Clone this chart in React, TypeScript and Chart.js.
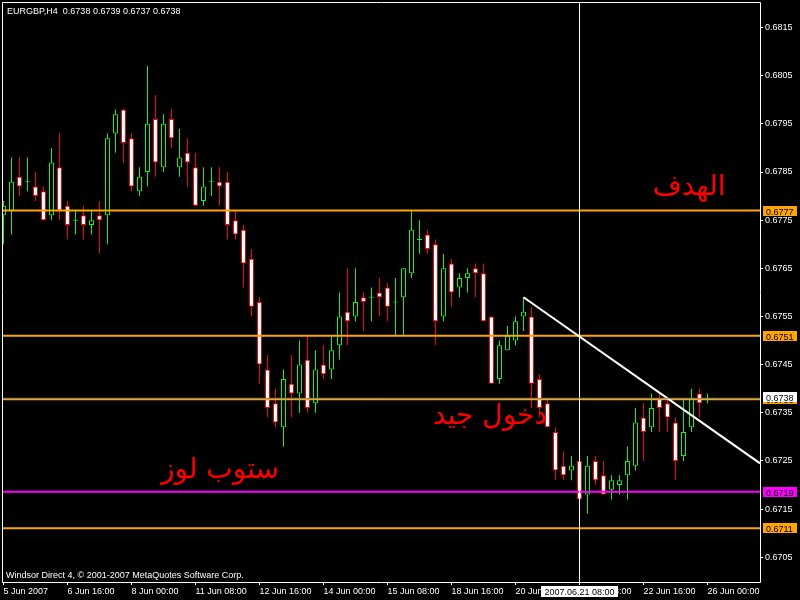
import React, { useEffect, useRef } from "react";
import { Chart, registerables } from "chart.js";

Chart.register(...registerables);

const symbolLabel = "EURGBP,H4";
const footerText = "Windsor Direct 4, © 2001-2007 MetaQuotes Software Corp.";

// H4 candles, 5 Jun 2007 08:00 .. 26 Jun 2007 00:00
const opens = [
  0.6776, 0.6777, 0.6784, 0.6783, 0.6782, 0.6781, 0.6776, 0.6786, 0.6778, 0.6775,
  0.6776, 0.6774, 0.6776, 0.6776, 0.6793, 0.6798, 0.6792, 0.6781, 0.6785, 0.6796,
  0.6786, 0.6796, 0.6786, 0.6789, 0.6786, 0.6779, 0.6783, 0.6783, 0.6783, 0.6775,
  0.6773, 0.6767, 0.6758, 0.6744, 0.6737, 0.6732, 0.6741, 0.6739, 0.6746, 0.6737,
  0.6745, 0.6744, 0.6749, 0.6756, 0.6755, 0.6759, 0.6759, 0.6760, 0.6761, 0.6758,
  0.6759, 0.6764, 0.6771, 0.6772, 0.6770, 0.6755, 0.6766, 0.6761, 0.6763, 0.6765,
  0.6764, 0.6755, 0.6742, 0.6748, 0.6750, 0.6755, 0.6755, 0.6742, 0.6737, 0.6731,
  0.6724, 0.6723, 0.6725, 0.6718, 0.6725, 0.6722, 0.6719, 0.6720, 0.6722, 0.6724,
  0.6734, 0.6732, 0.6738, 0.6737, 0.6733, 0.6726, 0.6732, 0.6739, 0.6738,
];
const highs = [
  0.6779, 0.6788, 0.6788, 0.6788, 0.6785, 0.6782, 0.6790, 0.6793, 0.6779, 0.6777,
  0.6778, 0.6777, 0.6779, 0.6793, 0.6798, 0.6798, 0.6793, 0.6786, 0.6807, 0.6801,
  0.6797, 0.6798, 0.6794, 0.6792, 0.6789, 0.6786, 0.6786, 0.6786, 0.6785, 0.6777,
  0.6774, 0.6769, 0.6759, 0.6747, 0.6740, 0.6744, 0.6747, 0.6750, 0.6751, 0.6748,
  0.6749, 0.6751, 0.6760, 0.6765, 0.6765, 0.6760, 0.6761, 0.6763, 0.6762, 0.6763,
  0.6765, 0.6777, 0.6775, 0.6773, 0.6771, 0.6768, 0.6767, 0.6764, 0.6765, 0.6766,
  0.6766, 0.6755, 0.6750, 0.6753, 0.6755, 0.6759, 0.6757, 0.6743, 0.6738, 0.6732,
  0.6727, 0.6726, 0.6725, 0.6726, 0.6726, 0.6725, 0.6722, 0.6722, 0.6728, 0.6736,
  0.6737, 0.6739, 0.6739, 0.6738, 0.6734, 0.6738, 0.6740, 0.6740, 0.6739,
];
const lows = [
  0.6770, 0.6772, 0.6780, 0.6781, 0.6779, 0.6775, 0.6775, 0.6775, 0.6771, 0.6772,
  0.6771, 0.6772, 0.6768, 0.6770, 0.6789, 0.6787, 0.6781, 0.6780, 0.6782, 0.6784,
  0.6785, 0.6790, 0.6784, 0.6782, 0.6778, 0.6778, 0.6780, 0.6778, 0.6771, 0.6771,
  0.6761, 0.6755, 0.6741, 0.6734, 0.6732, 0.6728, 0.6734, 0.6735, 0.6735, 0.6735,
  0.6742, 0.6742, 0.6746, 0.6749, 0.6754, 0.6752, 0.6754, 0.6755, 0.6754, 0.6751,
  0.6751, 0.6763, 0.6768, 0.6768, 0.6749, 0.6754, 0.6757, 0.6759, 0.6760, 0.6759,
  0.6754, 0.6741, 0.6741, 0.6748, 0.6749, 0.6752, 0.6736, 0.6734, 0.6732, 0.6721,
  0.6721, 0.6721, 0.6717, 0.6714, 0.6720, 0.6718, 0.6717, 0.6718, 0.6717, 0.6723,
  0.6725, 0.6731, 0.6731, 0.6731, 0.6721, 0.6725, 0.6731, 0.6734, 0.6737,
];
const closes = [
  0.6778, 0.6783, 0.6782, 0.6783, 0.6780, 0.6775, 0.6787, 0.6777, 0.6774, 0.6775,
  0.6774, 0.6775, 0.6775, 0.6792, 0.6797, 0.6791, 0.6782, 0.6784, 0.6795, 0.6787,
  0.6795, 0.6792, 0.6788, 0.6787, 0.6778, 0.6782, 0.6783, 0.6782, 0.6774, 0.6772,
  0.6766, 0.6757, 0.6745, 0.6736, 0.6733, 0.6742, 0.6739, 0.6745, 0.6736, 0.6744,
  0.6743, 0.6748, 0.6755, 0.6754, 0.6758, 0.6758, 0.6759, 0.6759, 0.6757, 0.6758,
  0.6765, 0.6773, 0.6771, 0.6769, 0.6754, 0.6765, 0.6760, 0.6763, 0.6764, 0.6764,
  0.6754, 0.6741, 0.6749, 0.6751, 0.6754, 0.6756, 0.6741, 0.6736, 0.6732, 0.6723,
  0.6722, 0.6724, 0.6717, 0.6724, 0.6721, 0.6718, 0.6721, 0.6721, 0.6725, 0.6733,
  0.6731, 0.6736, 0.6736, 0.6734, 0.6725, 0.6731, 0.6738, 0.6737, 0.6738,
];

const xTickIndex = [0, 8, 16, 24, 32, 40, 48, 56, 64, 72, 80, 88];
const xTickLabels = [
  "5 Jun 2007", "6 Jun 16:00", "8 Jun 00:00", "11 Jun 08:00", "12 Jun 16:00", "14 Jun 00:00",
  "15 Jun 08:00", "18 Jun 16:00", "20 Jun 00:00", "21 Jun 08:00", "22 Jun 16:00", "26 Jun 00:00",
];
const yTicks = [0.6705, 0.6715, 0.6725, 0.6735, 0.6745, 0.6755, 0.6765, 0.6775, 0.6785, 0.6795, 0.6805, 0.6815];

const levelPrices = [0.6777, 0.6751, 0.67378, 0.67186, 0.6711];
const levelColors = ["#FFA500", "#FFA500", "#FFA500", "#FF00FF", "#FFA500"];
const bidPrice = 0.6738;

const trendIndex = [65, 94.5625];
const trendPrice = [0.6759, 0.67245];

const vlineIndex = 72;
const vlineLabel = "2007.06.21 08:00";

const noteTexts = ["الهدف", "دخول جيد", "ستوب لوز"];
const noteIndex = [85.7, 60.8, 27.06];
const notePrice = [0.67803, 0.67327, 0.67215];

const X_MIN = -0.1875;
const X_MAX = 94.5625;
const Y_MIN = 0.669985;
const Y_MAX = 0.682031;
const DOJI = 0.00001;
const FONT = '"Liberation Sans", Arial, sans-serif';

export default function App() {
  const ref = useRef<HTMLCanvasElement>(null);

  useEffect(() => {
    document.body.style.margin = "0";
    document.body.style.background = "#000";
    const canvas = ref.current;
    if (!canvas) return;

    const idx = opens.map((_, i) => i);
    const bull = idx.map((i) => closes[i] >= opens[i]);
    const bodyData = idx.map((i) => {
      const o = opens[i];
      const c = closes[i];
      const lo = Math.min(o, c);
      const hi = Math.max(o, c);
      return { x: i, y: hi - lo < 1e-9 ? [o - DOJI, o + DOJI] : [lo, hi] };
    });
    const wickData = idx.map((i) => ({ x: i, y: [lows[i], highs[i]] }));

    const lineDs = (data: any[], color: string, width: number) => ({
      type: "line" as const,
      data,
      borderColor: color,
      borderWidth: width,
      pointRadius: 0,
      fill: false,
      tension: 0,
      order: 0,
    });

    const datasets: any[] = [
      lineDs([{ x: X_MIN, y: bidPrice }, { x: X_MAX, y: bidPrice }], "#778899", 1),
      lineDs([{ x: vlineIndex, y: Y_MIN }, { x: vlineIndex, y: Y_MAX }], "#FFFFFF", 1),
      lineDs(
        [
          { x: trendIndex[0], y: trendPrice[0] },
          { x: trendIndex[1], y: trendPrice[1] },
        ],
        "#FFFFFF",
        2
      ),
      ...levelPrices.map((p, k) =>
        lineDs([{ x: X_MIN, y: p }, { x: X_MAX, y: p }], levelColors[k], 2)
      ),
      {
        type: "bar",
        data: bodyData,
        backgroundColor: bull.map((b) => (b ? "#000000" : "#FFFFFF")),
        borderColor: bull.map((b) => (b ? "#00FF00" : "#FF0000")),
        borderWidth: 1,
        borderSkipped: false,
        grouped: false,
        maxBarThickness: 5,
        inflateAmount: 0,
        order: 1,
      },
      {
        type: "bar",
        data: wickData,
        backgroundColor: bull.map((b) => (b ? "#00FF00" : "#FF0000")),
        borderWidth: 0,
        grouped: false,
        maxBarThickness: 1,
        inflateAmount: 0,
        order: 2,
      },
    ];

    const background = {
      id: "mtBackground",
      beforeDraw(chart: any) {
        const ctx = chart.ctx;
        ctx.save();
        ctx.fillStyle = "#000000";
        ctx.fillRect(0, 0, chart.width, chart.height);
        ctx.restore();
      },
    };

    const overlay = {
      id: "mtOverlay",
      afterDraw(chart: any) {
        const { ctx, chartArea: a } = chart;
        const xs = chart.scales.x;
        const ys = chart.scales.y;
        ctx.save();
        // frame
        ctx.strokeStyle = "#FFFFFF";
        ctx.lineWidth = 1;
        ctx.beginPath();
        ctx.moveTo(a.left + 0.5, a.top + 0.5);
        ctx.lineTo(a.right + 0.5, a.top + 0.5);
        ctx.lineTo(a.right + 0.5, a.bottom + 0.5);
        ctx.lineTo(a.left + 0.5, a.bottom + 0.5);
        ctx.closePath();
        ctx.stroke();

        ctx.font = `9px ${FONT}`;
        ctx.textBaseline = "alphabetic";
        const tag = (text: string, py: number, bg: string, fg: string) => {
          const top = Math.round(py) - 5;
          ctx.fillStyle = bg;
          ctx.fillRect(a.right + 3, top, 34, 10);
          ctx.fillStyle = fg;
          ctx.textAlign = "left";
          ctx.fillText(text, a.right + 6, top + 8.5);
        };
        levelPrices.forEach((p, k) => tag(p.toFixed(4), ys.getPixelForValue(p), levelColors[k], "#000000"));
        tag(bidPrice.toFixed(4), ys.getPixelForValue(bidPrice) - 1, "#FFFFFF", "#000000");

        // vertical line date tag
        const vx = xs.getPixelForValue(vlineIndex);
        const w = Math.round(ctx.measureText(vlineLabel).width + 7);
        ctx.fillStyle = "#FFFFFF";
        ctx.fillRect(Math.round(vx - w / 2), a.bottom + 4, w, 11);
        ctx.fillStyle = "#000000";
        ctx.textAlign = "center";
        ctx.fillText(vlineLabel, vx, a.bottom + 12.5);

        // header and footer
        const last = opens.length - 1;
        const header = `${symbolLabel}  ${opens[last].toFixed(4)} ${highs[last].toFixed(4)} ${lows[last].toFixed(4)} ${closes[last].toFixed(4)}`;
        ctx.fillStyle = "#FFFFFF";
        ctx.textAlign = "left";
        ctx.fillText(header, 7, 14);
        ctx.fillText(footerText, 6, 578);

        // text notes
        ctx.font = `28px "DejaVu Sans", sans-serif`;
        ctx.fillStyle = "#FF0000";
        ctx.textAlign = "center";
        noteTexts.forEach((t, k) => {
          ctx.fillText(t, xs.getPixelForValue(noteIndex[k]), ys.getPixelForValue(notePrice[k]));
        });
        ctx.restore();
      },
    };

    const chart = new Chart(canvas, {
      type: "bar",
      data: { datasets },
      options: {
        responsive: false,
        maintainAspectRatio: false,
        animation: false,
        events: [],
        layout: { padding: { top: 2, left: 2, right: 0, bottom: 0 } },
        plugins: {
          legend: { display: false },
          tooltip: { enabled: false },
          title: { display: false },
        },
        scales: {
          x: {
            type: "linear",
            min: X_MIN,
            max: X_MAX,
            offset: false,
            grid: { offset: false, drawOnChartArea: false, drawTicks: true, tickLength: 3, color: "#FFFFFF" },
            border: { display: false },
            afterBuildTicks: (s: any) => {
              s.ticks = xTickIndex.map((v) => ({ value: v }));
            },
            afterFit: (s: any) => {
              s.height = 18;
              s.paddingLeft = 0;
              s.paddingRight = 0;
            },
            ticks: {
              autoSkip: false,
              maxRotation: 0,
              minRotation: 0,
              align: "start",
              padding: 1,
              color: "#FFFFFF",
              font: { family: FONT, size: 9 },
              callback: (v: any) => {
                const k = xTickIndex.indexOf(Number(v));
                return k >= 0 ? xTickLabels[k] : "";
              },
            },
          },
          y: {
            type: "linear",
            position: "right",
            min: Y_MIN,
            max: Y_MAX,
            grid: { drawOnChartArea: false, drawTicks: true, tickLength: 3, color: "#FFFFFF" },
            border: { display: false },
            afterBuildTicks: (s: any) => {
              s.ticks = yTicks.map((v) => ({ value: v }));
            },
            afterFit: (s: any) => {
              s.width = 40;
              s.paddingTop = 0;
              s.paddingBottom = 0;
            },
            ticks: {
              padding: 2,
              color: "#FFFFFF",
              font: { family: FONT, size: 9 },
              callback: (v: any) => Number(v).toFixed(4),
            },
          },
        },
      } as any,
      plugins: [background, overlay],
    });

    return () => chart.destroy();
  }, []);

  return (
    <div style={{ position: "fixed", left: 0, top: 0, width: 800, height: 600, background: "#000" }}>
      <canvas ref={ref} width={800} height={600} style={{ display: "block" }} />
    </div>
  );
}
